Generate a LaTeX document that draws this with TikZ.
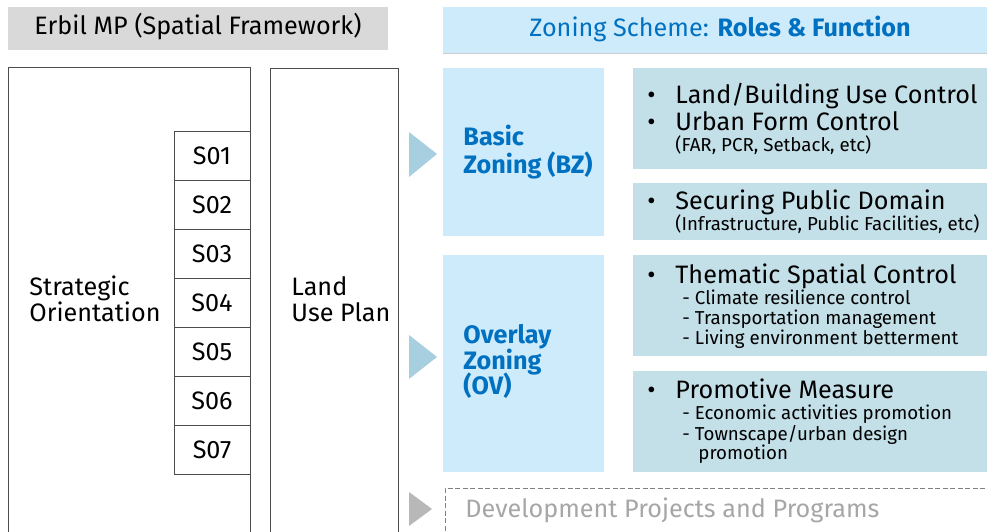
\documentclass[tikz,border=0pt]{standalone}
\usepackage{fontspec}
\setmainfont{Fira Sans}
\usetikzlibrary{positioning}

\definecolor{framegray}{HTML}{D9D9D9}
\definecolor{zonesky}{HTML}{CDEBFB}
\definecolor{itemblue}{HTML}{C3DFE8}
\definecolor{arrowblue}{HTML}{A7CFDF}
\definecolor{titleblue}{HTML}{0070C0}
\definecolor{fadegray}{HTML}{A6A6A6}

\newcommand{\bigtxt}{\fontsize{25.2}{29}\selectfont}
\newcommand{\smalltxt}{\fontsize{18.7}{22}\selectfont}

\begin{document}
\begin{tikzpicture}[x=1pt, y=-1pt, line width=0.9pt,
    panel/.style={anchor=north west, inner sep=0pt, outer sep=0pt},
    outline/.style={panel, draw=black!70, fill=white},
    cell/.style={outline, minimum width=76, minimum height=49, font=\bigtxt},
    line/.style={anchor=base west, inner sep=0pt, font=\bigtxt},
    subline/.style={anchor=base west, inner sep=0pt, font=\smalltxt},
    zone/.style={line, font=\bigtxt\bfseries, text=titleblue}]
  \useasboundingbox (0,0) rectangle (987,532);
  \clip (0,0) rectangle (987,532);

  % left side: framework
  \node[panel, fill=framegray, minimum width=380, minimum height=43] (mp) at (8,7) {};
  \node[anchor=base, inner sep=0pt, font=\bigtxt] (mptxt) at (198,35) {Erbil MP (Spatial Framework)};

  \node[outline, minimum width=242, minimum height=500] (orient) at (8,67) {};
  \node[line] (so1) at (29,295) {Strategic};
  \node[line] (so2) at (29,321) {Orientation};

  \foreach \i [count=\k from 0] in {1,...,7}
    \node[cell] (s\i) at (174,131+49*\k) {S0\i};

  \node[outline, minimum width=128, minimum height=500] (lup) at (270,68) {};
  \node[line] (lup1) at (291,295) {Land};
  \node[line] (lup2) at (291,321) {Use Plan};

  % arrows into the scheme
  \fill[arrowblue] (409,132) -- (437,154) -- (409,177) -- cycle;
  \fill[arrowblue] (409,335) -- (437,357) -- (409,379) -- cycle;
  \fill[framegray!85!black] (409,492) -- (432,509) -- (409,526) -- cycle;

  % right side: zoning scheme
  \node[panel, fill=zonesky, minimum width=544, minimum height=46] (zs) at (443,7) {};
  \draw[black!20, line width=0.6pt] (zs.south west) -- (zs.south east);
  \node[anchor=base, inner sep=0pt, font=\bigtxt, text=titleblue] (zstxt) at (720,37)
    {Zoning Scheme: \textbf{Roles \& Function}};

  \node[panel, fill=zonesky, minimum width=161, minimum height=168] (bz) at (443,68) {};
  \node[zone] (bz1) at (463,146) {Basic};
  \node[zone] (bz2) at (463,173) {Zoning (BZ)};

  \node[panel, fill=zonesky, minimum width=161, minimum height=217] (ov) at (443,255) {};
  \node[zone] (ov1) at (463,343) {Overlay};
  \node[zone] (ov2) at (463,369) {Zoning};
  \node[zone] (ov3) at (463,394) {(OV)};

  \node[panel, fill=itemblue, minimum width=360, minimum height=101] (use) at (633,68) {};
  \node[line] (b1) at (647,103) {•};
  \node[line] (use1) at (675,103) {Land/Building Use Control};
  \node[line] (b2) at (647,130) {•};
  \node[line] (use2) at (675,130) {Urban Form Control};
  \node[subline] (use3) at (675,151) {(FAR, PCR, Setback, etc)};

  \node[panel, fill=itemblue, minimum width=360, minimum height=57] (pub) at (633,183) {};
  \node[line] (b3) at (647,209) {•};
  \node[line] (pub1) at (675,209) {Securing Public Domain};
  \node[subline] (pub2) at (675,230) {(Infrastructure, Public Facilities, etc)};

  \node[panel, fill=itemblue, minimum width=360, minimum height=101] (thm) at (633,255) {};
  \node[line] (b4) at (647,283) {•};
  \node[line] (thm1) at (675,283) {Thematic Spatial Control};
  \node[subline] (thm2) at (682,304) {- Climate resilience control};
  \node[subline] (thm3) at (682,324) {- Transportation management};
  \node[subline] (thm4) at (682,344) {- Living environment betterment};

  \node[panel, fill=itemblue, minimum width=360, minimum height=101] (pro) at (633,371) {};
  \node[line] (b5) at (647,398) {•};
  \node[line] (pro1) at (675,398) {Promotive Measure};
  \node[subline] (pro2) at (682,419) {- Economic activities promotion};
  \node[subline] (pro3) at (682,440) {- Townscape/urban design};
  \node[subline] (pro4) at (698,459) {promotion};

  % projects, left open below
  \node[panel, draw=black!50, dash pattern=on 5pt off 2.5pt, line width=1pt, minimum width=560, minimum height=80] (dev) at (445,488) {};
  \node[line, text=fadegray] (devtxt) at (465,517) {Development Projects and Programs};
\end{tikzpicture}
\end{document}
